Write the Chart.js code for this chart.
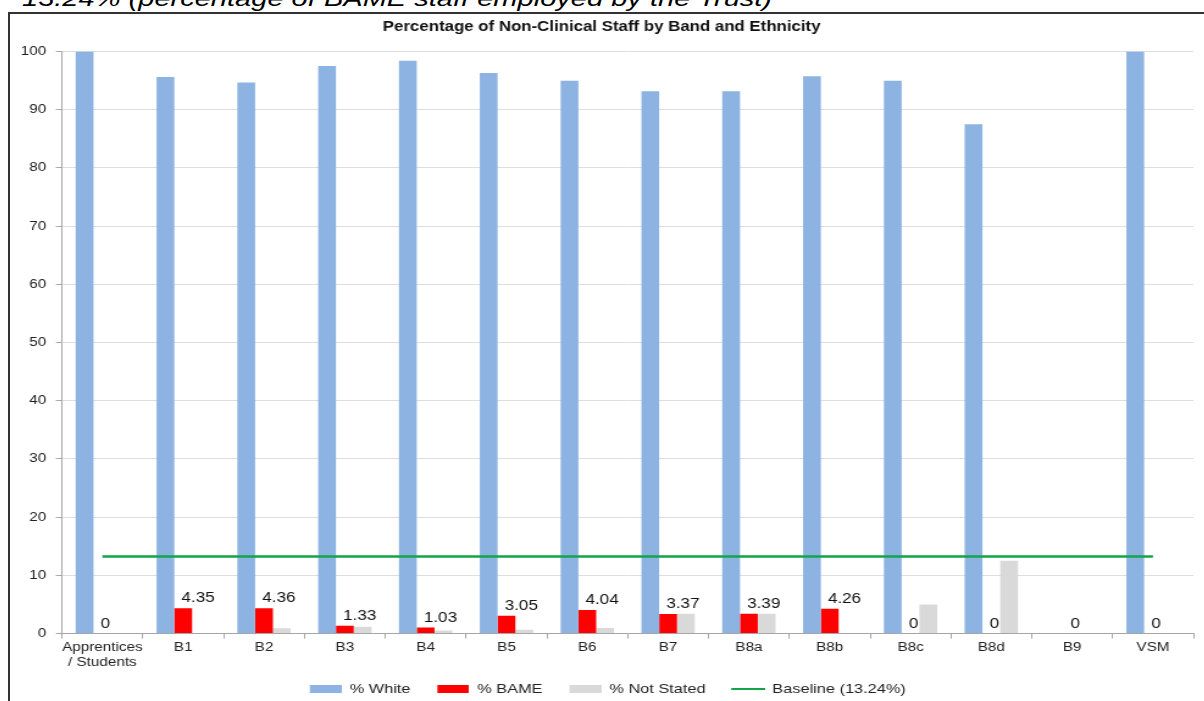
<!DOCTYPE html>
<html>
<head>
<meta charset="utf-8">
<script src="https://cdn.jsdelivr.net/npm/chart.js@4.4.0/dist/chart.umd.min.js"></script>
<style>
body { margin: 0; background: #fff; overflow: hidden; font-family: Arial, "Liberation Sans", sans-serif; }
#caption { position: absolute; left: 22px; top: -14px; font-style: italic; font-size: 22px; white-space: nowrap; transform: scaleX(1.32); transform-origin: 0 0; color: #000; }
#frame { position: absolute; left: 8px; top: 12px; width: 1300px; height: 800px; border-left: 2px solid #333; border-top: 2px solid #333; }
#wrap { position: absolute; left: 10px; top: 14px; width: 979px; height: 687px; transform: scaleX(1.22); transform-origin: 0 0; }
</style>
</head>
<body>
<div id="caption">13.24% (percentage of BAME staff employed by the Trust)</div>
<div id="frame"></div>
<div id="wrap"><canvas id="chart" width="979" height="687"></canvas></div>
<script>
// values
const bands = [["Apprentices", "/ Students"], "B1", "B2", "B3", "B4", "B5", "B6", "B7", "B8a", "B8b", "B8c", "B8d", "B9", "VSM"];
const pctWhite = [100, 95.65, 94.7, 97.5, 98.4, 96.3, 95.0, 93.2, 93.2, 95.74, 95.0, 87.5, 0, 100];
const pctBame = [0, 4.35, 4.36, 1.33, 1.03, 3.05, 4.04, 3.37, 3.39, 4.26, 0, 0, 0, 0];
const pctNotStated = [0, 0, 0.94, 1.17, 0.52, 0.65, 0.96, 3.43, 3.41, 0, 5.0, 12.5, 0, 0];
const baselineValue = 13.24;
const baseline = bands.map(() => baselineValue);

const colWhite = "#8db3e2", colBame = "#ff0000", colNS = "#d9d9d9", colLine = "#12a548";

// legend icons, with a transparent gap on the left to space the items out
function swatch(w, h, color) {
    const c = document.createElement("canvas");
    c.width = w + 10; c.height = h;
    const x = c.getContext("2d");
    x.fillStyle = color;
    x.fillRect(10, 0, w, h);
    return c;
}
const icons = [swatch(26, 8, colWhite), swatch(26, 8, colBame), swatch(26, 8, colNS), swatch(28, 2, colLine)];

// data labels on the BAME bars
const bameLabels = {
    id: "bameLabels",
    afterDatasetsDraw(chart) {
        const meta = chart.getDatasetMeta(1);
        const ctx = chart.ctx;
        ctx.save();
        ctx.font = "14px Arial";
        ctx.fillStyle = "#111";
        ctx.textAlign = "left";
        ctx.textBaseline = "alphabetic";
        meta.data.forEach(function (bar, i) {
            ctx.fillText(String(pctBame[i]), bar.x - 1.5, bar.y - 6);
        });
        ctx.restore();
    }
};

new Chart(document.getElementById("chart"), {
    type: "bar",
    data: {
        labels: bands,
        datasets: [
            { label: "% White", data: pctWhite, backgroundColor: colWhite, categoryPercentage: 0.66, barPercentage: 1.0 },
            { label: "% BAME", data: pctBame, backgroundColor: colBame, categoryPercentage: 0.66, barPercentage: 1.0 },
            { label: "% Not Stated", data: pctNotStated, backgroundColor: colNS, categoryPercentage: 0.66, barPercentage: 1.0 },
            { type: "line", label: "Baseline (13.24%)", data: baseline, borderColor: colLine, backgroundColor: colLine,
              borderWidth: 2.5, pointRadius: 0, order: -1 }
        ]
    },
    options: {
        responsive: false,
        animation: false,
        layout: { padding: { left: 0, right: 9, top: 0, bottom: -5 } },
        plugins: {
            title: {
                display: true,
                text: "Percentage of Non-Clinical Staff by Band and Ethnicity",
                font: { family: "Arial", size: 13.8, weight: "bold" },
                color: "#111",
                padding: { top: 5, bottom: 16 }
            },
            legend: {
                position: "bottom",
                labels: {
                    usePointStyle: true,
                    pointStyleWidth: 36,
                    boxHeight: 8,
                    padding: 12,
                    font: { family: "Arial", size: 13.4 },
                    color: "#222",
                    generateLabels(chart) {
                        return chart.data.datasets.map(function (ds, i) {
                            return { text: ds.label, fillStyle: ds.backgroundColor, strokeStyle: ds.backgroundColor,
                                     lineWidth: 0, pointStyle: icons[i], datasetIndex: i, hidden: false, fontColor: "#222" };
                        });
                    }
                }
            },
            tooltip: { enabled: false }
        },
        scales: {
            x: {
                grid: { display: true, drawOnChartArea: false, drawTicks: true, tickLength: 5, color: "#a6a6a6", offset: true },
                border: { color: "#a6a6a6" },
                ticks: { font: { family: "Arial", size: 12.5 }, color: "#222", padding: 1, maxRotation: 0, autoSkip: false }
            },
            y: {
                min: 0, max: 100,
                afterFit(scale) { scale.width = 42.6; },
                grid: { color: "#dedede", tickColor: "#a6a6a6", tickLength: 5 },
                border: { color: "#a6a6a6" },
                ticks: { stepSize: 10, font: { family: "Arial", size: 12.5 }, color: "#222", padding: 8 }
            }
        }
    },
    plugins: [bameLabels]
});
</script>
</body>
</html>
